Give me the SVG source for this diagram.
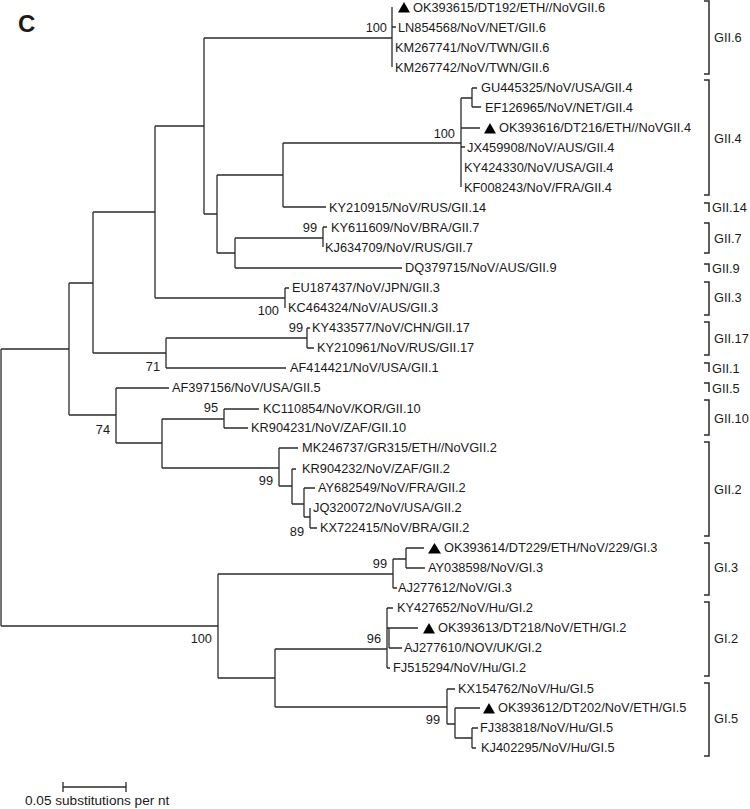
<svg xmlns="http://www.w3.org/2000/svg" width="750" height="809" viewBox="0 0 750 809">
<defs>
<style>
.tr{fill:none;stroke:#2b2b2b;stroke-width:1.3}
.br{fill:none;stroke:#2b2b2b;stroke-width:1.5}
text{font-family:"Liberation Sans",Arial,sans-serif;fill:#1a1a1a}
.t{font-size:12.8px}
.b{font-size:12.8px;text-anchor:end}
.tri{fill:#000}
</style>
</defs>
<rect width="750" height="809" fill="#fff"/>
<text x="18" y="32" style="font-size:24px;font-weight:bold">C</text>
<g id="connectors" class="tr">
<path d="M1,349V626M1,349H69M1,626H218"/>
<path d="M69,283V415M69,283H93M69,415H116"/>
<path d="M93,212V353M93,212H155M93,353H166"/>
<path d="M155,126V298M155,126H204M155,298H285"/>
<path d="M204,38V214M204,38H392M204,214H217"/>
<path d="M392,7V67M392,27H396"/>
<path d="M217,175V253M217,175H283M217,253H235"/>
<path d="M283,143V207M283,143H461M283,207H326"/>
<path d="M461,98V187M461,98H472M472,88V107M472,88H477M472,107H481M461,128H480M461,147H465"/>
<path d="M235,238V268M235,238H323M235,268H402"/>
<path d="M323,227V247M323,227H327"/>
<path d="M285,288V308M285,288H289"/>
<path d="M166,338V368M166,338H307M166,368H286"/>
<path d="M307,328V348M307,328H310M307,348H314"/>
<path d="M116,388V443M116,388H169M116,443H162"/>
<path d="M162,419V468M162,419H224M162,468H279"/>
<path d="M224,409V428M224,409H259M224,428H248"/>
<path d="M279,448V486M279,448H298M279,486H292"/>
<path d="M292,469V504M292,469H296M292,504H304"/>
<path d="M304,488V517M304,488H315M304,517H310"/>
<path d="M310,508V528M310,528H317"/>
<path d="M218,574V678M218,574H393M218,678H275"/>
<path d="M393,559V588M393,559H406M393,588H397"/>
<path d="M406,548V568M406,548H424M406,568H425"/>
<path d="M275,649V707M275,649H387M275,707H447"/>
<path d="M387,608V668M387,608H393M387,628H418M389,628V648M389,648H402M387,668H390"/>
<path d="M447,689V724M447,689H455M447,724H455"/>
<path d="M455,708V738M455,708H480M455,738H472"/>
<path d="M472,728V748M472,728H478M472,748H476"/>
</g>
<g id="tips" class="t">
<g id="n1"><polygon class="tri" points="398,12.5 410,12.5 404,2"/><text x="413" y="12">OK393615/DT192/ETH//NoVGII.6</text></g>
<g id="n2"><text x="398" y="32">LN854568/NoV/NET/GII.6</text></g>
<g id="n3"><text x="395" y="52">KM267741/NoV/TWN/GII.6</text></g>
<g id="n4"><text x="395" y="72">KM267742/NoV/TWN/GII.6</text></g>
<g id="n5"><text x="481" y="92">GU445325/NoV/USA/GII.4</text></g>
<g id="n6"><text x="485" y="112">EF126965/NoV/NET/GII.4</text></g>
<g id="n7"><polygon class="tri" points="484,133.5 496,133.5 490,123"/><text x="499" y="132">OK393616/DT216/ETH//NoVGII.4</text></g>
<g id="n8"><text x="467" y="152">JX459908/NoV/AUS/GII.4</text></g>
<g id="n9"><text x="464" y="172">KY424330/NoV/USA/GII.4</text></g>
<g id="n10"><text x="464" y="192">KF008243/NoV/FRA/GII.4</text></g>
<g id="n11"><text x="329" y="212">KY210915/NoV/RUS/GII.14</text></g>
<g id="n12"><text x="331" y="232">KY611609/NoV/BRA/GII.7</text></g>
<g id="n13"><text x="325" y="252">KJ634709/NoV/RUS/GII.7</text></g>
<g id="n14"><text x="405" y="272">DQ379715/NoV/AUS/GII.9</text></g>
<g id="n15"><text x="292" y="292">EU187437/NoV/JPN/GII.3</text></g>
<g id="n16"><text x="288" y="312">KC464324/NoV/AUS/GII.3</text></g>
<g id="n17"><text x="312" y="332">KY433577/NoV/CHN/GII.17</text></g>
<g id="n18"><text x="317" y="352">KY210961/NoV/RUS/GII.17</text></g>
<g id="n19"><text x="290" y="372">AF414421/NoV/USA/GII.1</text></g>
<g id="n20"><text x="172" y="392">AF397156/NoV/USA/GII.5</text></g>
<g id="n21"><text x="263" y="413">KC110854/NoV/KOR/GII.10</text></g>
<g id="n22"><text x="251" y="432">KR904231/NoV/ZAF/GII.10</text></g>
<g id="n23"><text x="302" y="452">MK246737/GR315/ETH//NoVGII.2</text></g>
<g id="n24"><text x="302" y="473">KR904232/NoV/ZAF/GII.2</text></g>
<g id="n25"><text x="318" y="492">AY682549/NoV/FRA/GII.2</text></g>
<g id="n26"><text x="313" y="512">JQ320072/NoV/USA/GII.2</text></g>
<g id="n27"><text x="320" y="532">KX722415/NoV/BRA/GII.2</text></g>
<g id="n28"><polygon class="tri" points="428,553.5 441,553.5 434.5,543"/><text x="444" y="552">OK393614/DT229/ETH/NoV/229/GI.3</text></g>
<g id="n29"><text x="428" y="572">AY038598/NoV/GI.3</text></g>
<g id="n30"><text x="398" y="592">AJ277612/NoV/GI.3</text></g>
<g id="n31"><text x="397" y="612">KY427652/NoV/Hu/GI.2</text></g>
<g id="n32"><polygon class="tri" points="423,633.5 435,633.5 429,623"/><text x="438" y="632">OK393613/DT218/NoV/ETH/GI.2</text></g>
<g id="n33"><text x="404" y="652">AJ277610/NOV/UK/GI.2</text></g>
<g id="n34"><text x="393" y="672">FJ515294/NoV/Hu/GI.2</text></g>
<g id="n35"><text x="458" y="693">KX154762/NoV/Hu/GI.5</text></g>
<g id="n36"><polygon class="tri" points="483,713.5 495,713.5 489,703"/><text x="498" y="712">OK393612/DT202/NoV/ETH/GI.5</text></g>
<g id="n37"><text x="480" y="732">FJ383818/NoV/Hu/GI.5</text></g>
<g id="n38"><text x="481" y="752">KJ402295/NoV/Hu/GI.5</text></g>
</g>
<g id="bootstrap" class="b">
<text x="387" y="32">100</text>
<text x="455" y="138">100</text>
<text x="317" y="232">99</text>
<text x="279" y="315">100</text>
<text x="303" y="332">99</text>
<text x="160" y="371">71</text>
<text x="218" y="412">95</text>
<text x="110" y="434">74</text>
<text x="273" y="485">99</text>
<text x="304" y="536">89</text>
<text x="387" y="568">99</text>
<text x="212" y="643">100</text>
<text x="381" y="643">96</text>
<text x="440" y="724">99</text>
</g>
<g id="brackets" class="br">
<path d="M704,1H709V74H704"/>
<path d="M704,80H709V195H704"/>
<path d="M704,203H709V212"/>
<path d="M704,223H709V253H704"/>
<path d="M704,264H709V272"/>
<path d="M704,282H709V315H704"/>
<path d="M704,322H709V355H704"/>
<path d="M704,363H709V372"/>
<path d="M704,383H709V392"/>
<path d="M704,400H709V435H704"/>
<path d="M704,442H709V536H704"/>
<path d="M704,543H709V595H704"/>
<path d="M704,602H709V676H704"/>
<path d="M704,683H709V756H704"/>
</g>
<g id="genotypes" class="t">
<text x="714" y="42">GII.6</text>
<text x="714" y="143">GII.4</text>
<text x="712" y="212">GII.14</text>
<text x="714" y="243">GII.7</text>
<text x="712" y="273">GII.9</text>
<text x="714" y="302">GII.3</text>
<text x="714" y="343">GII.17</text>
<text x="712" y="373">GII.1</text>
<text x="712" y="393">GII.5</text>
<text x="714" y="423">GII.10</text>
<text x="714" y="494">GII.2</text>
<text x="714" y="572">GI.3</text>
<text x="714" y="643">GI.2</text>
<text x="714" y="723">GI.5</text>
</g>
<g id="scale">
<path class="tr" d="M63,787H126M63,782V792M126,782V792"/>
<text x="25" y="805" style="font-size:13.6px">0.05 substitutions per nt</text>
</g>
</svg>
